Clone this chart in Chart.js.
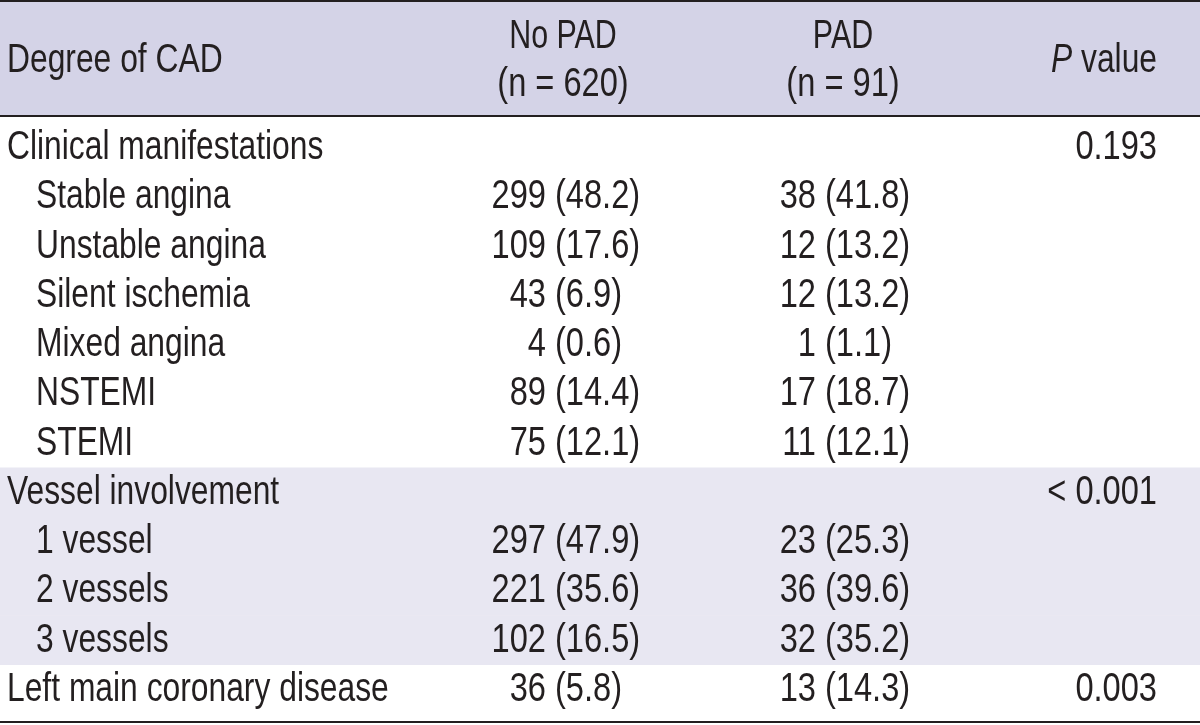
<!DOCTYPE html>
<html>
<head>
<meta charset="utf-8">
<title>Degree of CAD by PAD status</title>
<script src="https://cdn.jsdelivr.net/npm/chart.js@4"></script>
<style>
  html, body { margin: 0; padding: 0; background: #ffffff; }
  #tableChart { display: block; }
</style>
</head>
<body>
<canvas id="tableChart" width="1200" height="725"></canvas>
<script>
// table data
const rowLabels = [
  'Clinical manifestations', 'Stable angina', 'Unstable angina', 'Silent ischemia',
  'Mixed angina', 'NSTEMI', 'STEMI',
  'Vessel involvement', '1 vessel', '2 vessels', '3 vessels',
  'Left main coronary disease'
];
const rowLevel = [0, 1, 1, 1, 1, 1, 1, 0, 1, 1, 1, 0];
const noPadN = [null, 299, 109, 43, 4, 89, 75, null, 297, 221, 102, 36];
const noPadPct = [null, 48.2, 17.6, 6.9, 0.6, 14.4, 12.1, null, 47.9, 35.6, 16.5, 5.8];
const padN = [null, 38, 12, 12, 1, 17, 11, null, 23, 36, 32, 13];
const padPct = [null, 41.8, 13.2, 13.2, 1.1, 18.7, 12.1, null, 25.3, 39.6, 35.2, 14.3];
const pValues = ['0.193', '', '', '', '', '', '', '< 0.001', '', '', '', '0.003'];
const shadedRow = [false, false, false, false, false, false, false, true, true, true, true, false];

const headFirst = 'Degree of CAD';
const headNoPad = ['No PAD', '(n = 620)'];
const headPad = ['PAD', '(n = 91)'];

const INK = '#231f20';
const HEAD_BG = '#d4d3e7';
const BAND_BG = '#e8e7f2';
const FONT = '"Liberation Sans", Arial, sans-serif';
// fake a condensed face: words and numbers squeezed a little differently
const SQ_TEXT = 0.795;
const SQ_NUM = 0.815;

// column anchors, in x-scale units
const col = { label: 7, indent: 36, noPadMid: 563, noPadParen: 556, padMid: 843, padParen: 826, pRight: 1157 };

function drawText(ctx, text, x, y, align, sq, italic) {
  ctx.save();
  ctx.translate(x, y);
  ctx.scale(sq, 1);
  ctx.font = (italic ? 'italic ' : '') + '40px ' + FONT;
  ctx.textAlign = align;
  ctx.textBaseline = 'alphabetic';
  ctx.fillStyle = INK;
  ctx.fillText(text, 0, 0);
  ctx.restore();
}

function textWidth(ctx, text, sq, italic) {
  ctx.save();
  ctx.font = (italic ? 'italic ' : '') + '40px ' + FONT;
  const w = ctx.measureText(text).width * sq;
  ctx.restore();
  return w;
}

// count right of a gap, percentage in brackets starting at parenX
function drawCell(ctx, n, pct, parenX, y) {
  if (n === null) return;
  drawText(ctx, String(n), parenX - 10, y, 'right', SQ_NUM);
  drawText(ctx, '(' + pct.toFixed(1) + ')', parenX - 1, y, 'left', SQ_NUM);
}

const tablePlugin = {
  id: 'tablePlugin',
  beforeDatasetsDraw(chart) {
    const { ctx, chartArea, scales } = chart;
    const x = scales.x;
    const headBottom = chartArea.top - 7;
    ctx.save();
    ctx.fillStyle = HEAD_BG;
    ctx.fillRect(x.getPixelForValue(0), 0, x.getPixelForValue(1200), headBottom);
    ctx.restore();
  },
  afterDatasetsDraw(chart) {
    const { ctx, chartArea, scales } = chart;
    const x = scales.x, y = scales.y;
    const headBottom = chartArea.top - 7;
    const left = x.getPixelForValue(0), right = x.getPixelForValue(1200);

    // rules
    ctx.save();
    ctx.strokeStyle = INK;
    ctx.lineWidth = 2;
    [1, headBottom, chartArea.bottom + 8].forEach(py => {
      ctx.beginPath();
      ctx.moveTo(left, py);
      ctx.lineTo(right, py);
      ctx.stroke();
    });
    ctx.restore();

    // header
    const midBase = headBottom * 0.62;
    drawText(ctx, headFirst, x.getPixelForValue(col.label), midBase, 'left', SQ_TEXT);
    drawText(ctx, headNoPad[0], x.getPixelForValue(col.noPadMid), headBottom * 0.415, 'center', 0.76);
    drawText(ctx, headNoPad[1], x.getPixelForValue(col.noPadMid), headBottom * 0.83, 'center', SQ_NUM);
    drawText(ctx, headPad[0], x.getPixelForValue(col.padMid), headBottom * 0.415, 'center', 0.76);
    drawText(ctx, headPad[1], x.getPixelForValue(col.padMid), headBottom * 0.83, 'center', SQ_NUM);
    const pr = x.getPixelForValue(col.pRight);
    drawText(ctx, 'value', pr, midBase, 'right', SQ_TEXT);
    drawText(ctx, 'P', pr - textWidth(ctx, ' value', SQ_TEXT), midBase, 'right', SQ_TEXT, true);

    // body rows
    rowLabels.forEach((label, i) => {
      const base = y.getPixelForValue(i) + 11.5;
      const lx = rowLevel[i] ? col.indent : col.label;
      drawText(ctx, label, x.getPixelForValue(lx), base, 'left', SQ_TEXT);
      drawCell(ctx, noPadN[i], noPadPct[i], x.getPixelForValue(col.noPadParen), base);
      drawCell(ctx, padN[i], padPct[i], x.getPixelForValue(col.padParen), base);
      if (pValues[i]) drawText(ctx, pValues[i], pr, base, 'right', SQ_NUM);
    });
  }
};

const ctx = document.getElementById('tableChart');
new Chart(ctx, {
  type: 'bar',
  data: {
    labels: rowLabels,
    datasets: [{
      label: 'Row shading',
      data: rowLabels.map((_, i) => shadedRow[i] ? [0, 1200] : null),
      backgroundColor: BAND_BG,
      borderWidth: 0,
      barPercentage: 1,
      categoryPercentage: 1
    }]
  },
  plugins: [tablePlugin],
  options: {
    indexAxis: 'y',
    responsive: false,
    animation: false,
    events: [],
    layout: { padding: { top: 123, bottom: 11, left: 0, right: 0 } },
    scales: {
      x: { type: 'linear', min: 0, max: 1200, display: false },
      y: { type: 'category', display: false, offset: true }
    },
    plugins: {
      legend: { display: false },
      tooltip: { enabled: false }
    }
  }
});
</script>
</body>
</html>
